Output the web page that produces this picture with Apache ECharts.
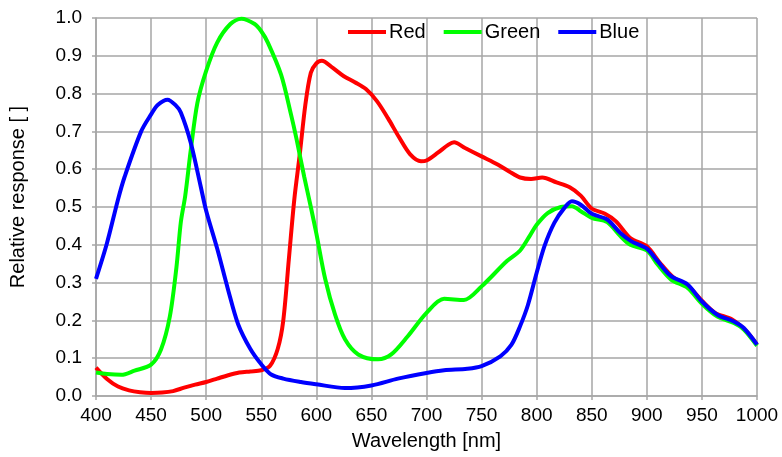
<!DOCTYPE html>
<html>
<head>
<meta charset="utf-8">
<script src="https://cdn.jsdelivr.net/npm/echarts@6/dist/echarts.min.js"></script>
<style>html,body{margin:0;padding:0;background:#fff}#c{width:782px;height:457px}</style>
</head>
<body>
<div id="c"></div>
<script>
const xTicks = [400,450,500,550,600,650,700,750,800,850,900,950,1000];
const yTicks = [0.0,0.1,0.2,0.3,0.4,0.5,0.6,0.7,0.8,0.9,1.0];

const redWl = [400,410,420,430,440,450,460,470,480,490,500,510,520,530,540,550,558,565,570,575,580,585,590,595,600,605,615,625,635,645,655,665,675,685,695,700,710,720,725,735,750,765,775,785,795,805,818,830,840,850,862,872,885,900,912,924,937,950,962,977,990,1000];
const redVal = [0.075,0.045,0.025,0.015,0.010,0.008,0.009,0.013,0.022,0.030,0.037,0.046,0.055,0.062,0.065,0.068,0.080,0.125,0.200,0.360,0.520,0.640,0.770,0.855,0.880,0.887,0.868,0.846,0.830,0.812,0.780,0.735,0.685,0.640,0.621,0.623,0.643,0.665,0.671,0.656,0.634,0.612,0.594,0.578,0.574,0.578,0.565,0.552,0.530,0.496,0.482,0.462,0.418,0.396,0.352,0.314,0.292,0.252,0.220,0.203,0.172,0.136];

const greenWl = [400,410,423,435,450,459,467,473,477,481,486,492,500,510,522,532,544,550,556,568,577,582,589,595,600,608,617,626,638,656,668,683,700,716,734,750,773,785,794,800,810,822,832,840,850,864,876,885,900,910,922,937,950,964,979,988,1000];
const greenVal = [0.062,0.058,0.056,0.067,0.083,0.123,0.210,0.340,0.460,0.530,0.650,0.775,0.860,0.935,0.984,0.998,0.984,0.965,0.935,0.850,0.745,0.680,0.580,0.500,0.430,0.310,0.215,0.150,0.110,0.097,0.110,0.158,0.220,0.257,0.254,0.290,0.357,0.385,0.425,0.453,0.484,0.500,0.502,0.489,0.471,0.460,0.423,0.400,0.385,0.347,0.308,0.286,0.244,0.210,0.193,0.176,0.133];

const blueWl = [400,410,420,426,441,450,456,465,472,477,486,495,500,510,520,529,540,550,559,570,586,600,626,650,674,700,716,737,750,767,777,785,792,800,807,816,825,832,840,850,864,876,886,900,910,922,937,950,964,979,988,1000];
const blueVal = [0.310,0.405,0.520,0.580,0.700,0.745,0.770,0.784,0.770,0.750,0.670,0.555,0.490,0.390,0.280,0.190,0.125,0.084,0.057,0.046,0.037,0.031,0.021,0.028,0.046,0.061,0.068,0.072,0.079,0.105,0.135,0.185,0.240,0.326,0.396,0.458,0.497,0.515,0.506,0.482,0.467,0.431,0.409,0.390,0.356,0.317,0.295,0.250,0.215,0.197,0.180,0.136];

const pairs = (xs, ys) => xs.map((x, i) => [x, ys[i]]);
const font = 'Liberation Sans, Arial, sans-serif';
const gridColor = '#a6a6a6';

const chart = echarts.init(document.getElementById('c'), null, {renderer: 'canvas'});
const mk = (name, color, xs, ys) => ({
  name, type: 'line', data: pairs(xs, ys), smooth: 0.3,
  symbol: 'none', showSymbol: false,
  lineStyle: {color, width: 4}, itemStyle: {color}
});
chart.setOption({
  animation: false,
  backgroundColor: '#fff',
  grid: {left: 95, right: 25, top: 18, bottom: 61, containLabel: false},
  legend: {
    top: 22, left: 348, padding: 0, itemWidth: 38, itemHeight: 4, itemGap: 18,
    icon: 'path://M0,0 L38,0 L38,4 L0,4 Z',
    textStyle: {fontFamily: font, fontSize: 20, color: '#000', padding: [0,0,0,-2]},
    data: ['Red','Green','Blue']
  },
  xAxis: {
    type: 'value', min: xTicks[0], max: xTicks[xTicks.length-1], interval: 50,
    name: 'Wavelength [nm]', nameLocation: 'middle', nameGap: 35,
    nameTextStyle: {fontFamily: font, fontSize: 20, color: '#000'},
    axisLine: {show: true, lineStyle: {color: gridColor, width: 1.5}},
    axisTick: {show: true, length: 4, lineStyle: {color: gridColor, width: 1.5}},
    axisLabel: {fontFamily: font, fontSize: 19, color: '#000', margin: 10,
      customValues: xTicks, formatter: v => String(v)},
    splitLine: {show: true, lineStyle: {color: gridColor, width: 1.5}}
  },
  yAxis: {
    type: 'value', min: 0, max: 1, interval: 0.1,
    name: 'Relative response [ ]', nameLocation: 'middle', nameGap: 68,
    nameTextStyle: {fontFamily: font, fontSize: 20, color: '#000', padding: [0,0,0,20]},
    axisLine: {show: true, lineStyle: {color: gridColor, width: 1.5}},
    axisTick: {show: true, length: 4, lineStyle: {color: gridColor, width: 1.5}},
    axisLabel: {fontFamily: font, fontSize: 19, color: '#000', margin: 14,
      formatter: v => v.toFixed(1)},
    splitLine: {show: true, lineStyle: {color: gridColor, width: 1.5}}
  },
  series: [
    mk('Red', '#ff0000', redWl, redVal),
    mk('Green', '#00ff00', greenWl, greenVal),
    mk('Blue', '#0000ff', blueWl, blueVal)
  ]
});
</script>
</body>
</html>
